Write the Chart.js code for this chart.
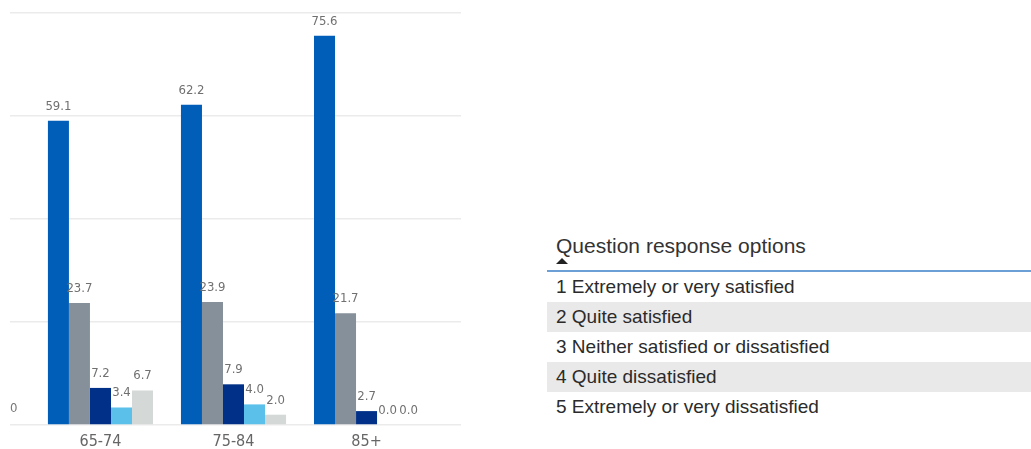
<!DOCTYPE html>
<html>
<head>
<meta charset="utf-8">
<script src="https://cdn.jsdelivr.net/npm/chart.js@4/dist/chart.umd.min.js"></script>
<style>
  body { margin: 0; background: #fff; width: 1031px; height: 449px; overflow: hidden; position: relative; font-family: "Liberation Sans", Arial, sans-serif; }
  #chartBox { position: absolute; left: 0; top: 0; width: 470px; height: 449px; }
  #legendBox { position: absolute; left: 547px; top: 234px; width: 484px; }
  .legend-title { padding-left: 9px; font-size: 21px; line-height: 24px; color: #333; }
  .legend-sort { margin: 0 0 0 9px; width: 0; height: 0; border-left: 6px solid transparent; border-right: 6px solid transparent; border-bottom: 6px solid #222; }
  .legend-rule { margin-top: 6px; height: 2px; background: #6b9fd6; }
  .legend-row { height: 30px; line-height: 30px; padding-left: 9px; font-size: 19px; color: #2b2b2b; }
  .legend-row:nth-child(even) { background: #e9e9e9; }
</style>
</head>
<body>
<div id="chartBox"><canvas id="satisfaction"></canvas></div>
<div id="legendBox">
  <div class="legend-title">Question response options</div>
  <div class="legend-sort"></div>
  <div class="legend-rule"></div>
  <div id="legendRows"></div>
</div>
<script>
const ageGroups = ["65-74", "75-84", "85+"];
const responseOptions = [
  "1 Extremely or very satisfied",
  "2 Quite satisfied",
  "3 Neither satisfied or dissatisfied",
  "4 Quite dissatisfied",
  "5 Extremely or very dissatisfied"
];
const extremelySatisfied = [59.1, 62.2, 75.6];
const quiteSatisfied = [23.7, 23.9, 21.7];
const neitherSatisfied = [7.2, 7.9, 2.7];
const quiteDissatisfied = [3.4, 4.0, 0.0];
const extremelyDissatisfied = [6.7, 2.0, 0.0];
const yTicks = [0, 20, 40, 60, 80];

const seriesValues = [extremelySatisfied, quiteSatisfied, neitherSatisfied, quiteDissatisfied, extremelyDissatisfied];
const barColours = ["#005eb8", "#86909a", "#003087", "#5bc0ea", "#d4d8d7"];

const condensed = '"DejaVu Sans Condensed", "Liberation Sans Narrow", "Roboto", sans-serif';

// response options list next to the chart
const rows = document.getElementById("legendRows");
responseOptions.forEach(name => {
  const row = document.createElement("div");
  row.className = "legend-row";
  row.textContent = name;
  rows.appendChild(row);
});

// value printed above every bar
const barValueLabels = {
  id: "barValueLabels",
  afterDatasetsDraw(chart) {
    const ctx = chart.ctx;
    ctx.save();
    ctx.font = "13px " + condensed;
    ctx.fillStyle = "#707070";
    ctx.textAlign = "center";
    ctx.textBaseline = "alphabetic";
    chart.data.datasets.forEach((ds, i) => {
      chart.getDatasetMeta(i).data.forEach((bar, j) => {
        ctx.fillText(ds.data[j].y.toFixed(1), bar.x, bar.y - 11);
      });
    });
    ctx.restore();
  }
};

new Chart(document.getElementById("satisfaction"), {
  type: "bar",
  data: {
    datasets: seriesValues.map((values, i) => ({
      label: responseOptions[i],
      data: values.map((v, j) => ({ x: j, y: v })),
      backgroundColor: barColours[i],
      borderWidth: 0,
      categoryPercentage: 0.79,
      barPercentage: 1
    }))
  },
  options: {
    responsive: true,
    maintainAspectRatio: false,
    animation: false,
    layout: { padding: { top: 13, left: 10, right: 9, bottom: 0 } },
    plugins: { legend: { display: false }, tooltip: { enabled: false } },
    scales: {
      x: {
        type: "linear",
        offset: false,
        min: -0.68,
        max: 2.71,
        afterBuildTicks: axis => { axis.ticks = ageGroups.map((_, i) => ({ value: i })); },
        afterFit: axis => { axis.height = 24; },
        grid: { display: false, drawTicks: false },
        border: { display: false },
        ticks: {
          autoSkip: false,
          maxRotation: 0,
          padding: 7,
          color: "#666",
          font: { size: 16, family: condensed },
          callback: v => ageGroups[v] ?? ""
        }
      },
      y: {
        min: yTicks[0],
        max: yTicks[yTicks.length - 1],
        afterBuildTicks: axis => { axis.ticks = yTicks.map(v => ({ value: v })); },
        grid: { color: "#ebebeb", lineWidth: 1.5, drawTicks: false },
        border: { display: false },
        ticks: {
          mirror: true,
          padding: 0,
          labelOffset: -16,
          color: "#777",
          font: { size: 13, family: condensed },
          callback: v => (v === 0 ? "0" : "")
        }
      }
    }
  },
  plugins: [barValueLabels]
});
</script>
</body>
</html>
